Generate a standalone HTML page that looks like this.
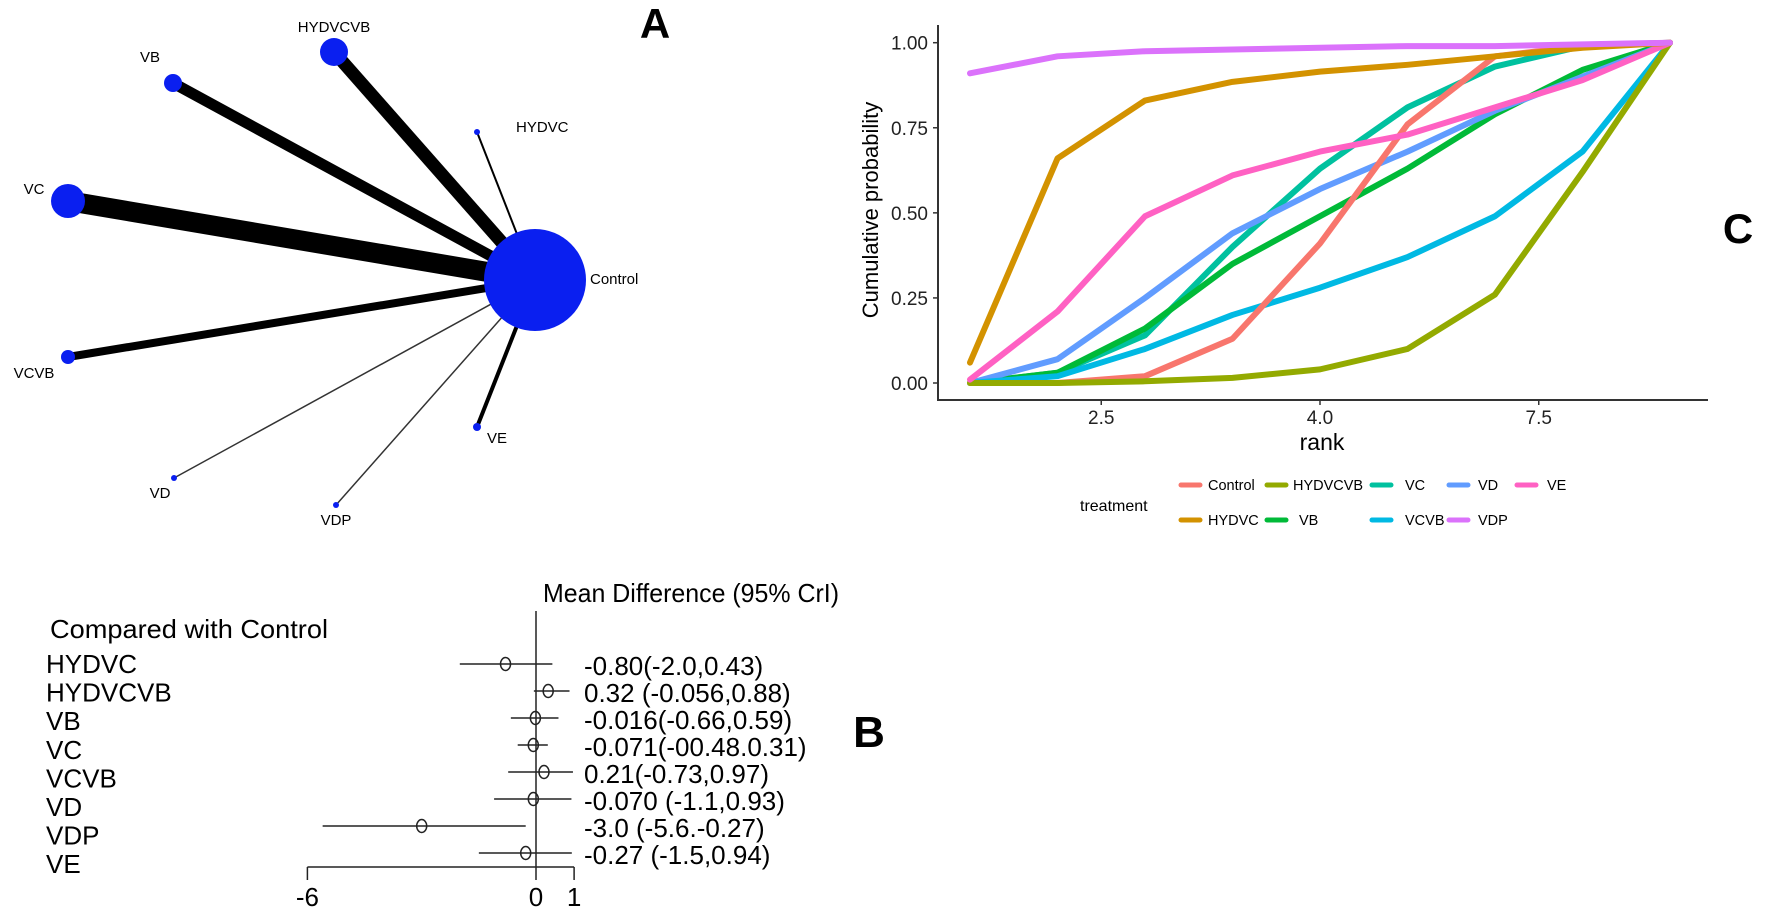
<!DOCTYPE html>
<html><head><meta charset="utf-8"><style>
body{margin:0;background:#fff;}
svg{display:block;font-family:"Liberation Sans",sans-serif;}
</style></head><body>
<svg id="root" width="1772" height="913" viewBox="0 0 1772 913">
<rect width="1772" height="913" fill="#fff"/>
<g id="net"></g>
<g id="cum"></g>
<g id="forest"></g>
<text x="655" y="38" font-size="42" font-weight="bold" text-anchor="middle">A</text>
<text x="869" y="747" font-size="44" font-weight="bold" text-anchor="middle">B</text>
<text x="1738" y="243" font-size="42" font-weight="bold" text-anchor="middle">C</text>
</svg>
<script>
const NS="http://www.w3.org/2000/svg";
function mk(p,t,a){const e=document.createElementNS(NS,t);for(const k in a)e.setAttribute(k,a[k]);p.appendChild(e);return e;}

// ---------- Network (A) ----------
const netNodes=["HYDVCVB","VB","HYDVC","VC","VCVB","VD","VDP","VE"];
const netNodeSizes=[14,9,3,17,7,3,3,4];
const netEdgeWidths=[13,11,2,20,8,1.5,1.5,4];
const netPos={HYDVCVB:[334,52],VB:[173,83],HYDVC:[477,132],VC:[68,201],VCVB:[68,357],VD:[174,478],VDP:[336,505],VE:[477,427]};
const netLabelPos={HYDVCVB:[334,32,"middle"],VB:[150,62,"middle"],HYDVC:[516,132,"start"],VC:[34,194,"middle"],VCVB:[34,378,"middle"],VD:[160,498,"middle"],VDP:[336,525,"middle"],VE:[497,443,"middle"]};
const net=document.getElementById('net');
const cx=535,cy=280;
netNodes.forEach((n,i)=>{
  const l=mk(net,'line',{x1:netPos[n][0],y1:netPos[n][1],x2:cx,y2:cy,stroke:(i===5||i===6)?'#333':'#000','stroke-width':netEdgeWidths[i]});
  
  
});
const cn=mk(net,'circle',{cx:cx,cy:cy,r:51,fill:'#0a1ff0'});


const ct=mk(net,'text',{x:590,y:284,'font-size':15});ct.textContent='Control';


netNodes.forEach((n,i)=>{
  const c=mk(net,'circle',{cx:netPos[n][0],cy:netPos[n][1],r:netNodeSizes[i],fill:'#0a1ff0'});
  
  
  const lp=netLabelPos[n];
  const t=mk(net,'text',{x:lp[0],y:lp[1],'font-size':15,'text-anchor':lp[2]});t.textContent=n;
  
  
});

// ---------- Cumulative rank chart (C) ----------
const treatments=["Control","HYDVC","HYDVCVB","VB","VC","VCVB","VD","VDP","VE"];
const colors=["#F8766D","#D39200","#93AA00","#00BA38","#00C19F","#00B9E3","#619CFF","#DB72FB","#FF61C3"];
const ranks=[1,2,3,4,5,6,7,8,9];
const sControl=[0,0,0.02,0.13,0.41,0.76,0.96,0.99,1];
const sHYDVC=[0.06,0.66,0.83,0.885,0.915,0.935,0.96,0.985,1];
const sHYDVCVB=[0,0,0.005,0.015,0.04,0.10,0.26,0.62,1];
const sVB=[0,0.03,0.16,0.35,0.49,0.63,0.79,0.92,1];
const sVC=[0,0.03,0.14,0.40,0.63,0.81,0.93,0.99,1];
const sVCVB=[0,0.02,0.10,0.20,0.28,0.37,0.49,0.68,1];
const sVD=[0,0.07,0.25,0.44,0.57,0.68,0.80,0.90,1];
const sVDP=[0.91,0.96,0.975,0.98,0.985,0.99,0.99,0.995,1];
const sVE=[0.01,0.21,0.49,0.61,0.68,0.73,0.81,0.89,1];
const series=[sControl,sHYDVC,sHYDVCVB,sVB,sVC,sVCVB,sVD,sVDP,sVE];
const drawOrder=[4,3,6,5,0,2,8,1,7];
const yTicks=[0,0.25,0.5,0.75,1];
const yTickLabels=["0.00","0.25","0.50","0.75","1.00"];
const xTicks=[2.5,5,7.5];
const xTickLabels=["2.5","4.0","7.5"];
const X=r=>970+(r-1)*87.5;
const Y=v=>383-v*340.3;
const cum=document.getElementById('cum');
mk(cum,'line',{x1:938,y1:25,x2:938,y2:400,stroke:'#333','stroke-width':2});
mk(cum,'line',{x1:937,y1:400,x2:1708,y2:400,stroke:'#333','stroke-width':2});
yTicks.forEach((v,i)=>{
  mk(cum,'line',{x1:933,y1:Y(v),x2:938,y2:Y(v),stroke:'#333','stroke-width':1.5});
  const t=mk(cum,'text',{x:928,y:Y(v)+7,'font-size':19,'text-anchor':'end',fill:'#222'});t.textContent=yTickLabels[i];
  
  
});
xTicks.forEach((v,i)=>{
  mk(cum,'line',{x1:X(v),y1:400,x2:X(v),y2:405,stroke:'#333','stroke-width':1.5});
  const t=mk(cum,'text',{x:X(v),y:424,'font-size':19,'text-anchor':'middle',fill:'#222'});t.textContent=xTickLabels[i];
  
  
});
const yt=mk(cum,'text',{x:0,y:0,'font-size':22,'text-anchor':'middle',transform:'translate(878,210) rotate(-90)'});yt.textContent='Cumulative probability';


const xt=mk(cum,'text',{x:1322,y:450,'font-size':23,'text-anchor':'middle'});xt.textContent='rank';


drawOrder.forEach(i=>{
  const pts=ranks.map((r,j)=>X(r)+','+Y(series[i][j])).join(' ');
  const pl=mk(cum,'polyline',{points:pts,fill:'none',stroke:colors[i],'stroke-width':6,'stroke-linejoin':'round','stroke-linecap':'round'});
  
  
});
// legend
const lt=mk(cum,'text',{x:1080,y:511,'font-size':16});lt.textContent='treatment';


const legKeyX=[1181,1181,1267,1267,1372,1372,1449,1449,1517];
const legLabX=[1208,1208,1293,1299,1405,1405,1478,1478,1547];
const legRow=[0,1,0,1,0,1,0,1,0];
treatments.forEach((n,i)=>{
  const y=legRow[i]?520:485;
  const g=mk(cum,'g',{});
  
  
  mk(g,'line',{x1:legKeyX[i],y1:y,x2:legKeyX[i]+19,y2:y,stroke:colors[i],'stroke-width':5,'stroke-linecap':'round'});
  const t=mk(g,'text',{x:legLabX[i],y:y+5,'font-size':14.5});t.textContent=n;
});

// ---------- Forest plot (B) ----------
const fNames=["HYDVC","HYDVCVB","VB","VC","VCVB","VD","VDP","VE"];
const fMean=[-0.80,0.32,-0.016,-0.071,0.21,-0.070,-3.0,-0.27];
const fLow=[-2.0,-0.056,-0.66,-0.48,-0.73,-1.1,-5.6,-1.5];
const fHigh=[0.43,0.88,0.59,0.31,0.97,0.93,-0.27,0.94];
const fText=["-0.80(-2.0,0.43)","0.32 (-0.056,0.88)","-0.016(-0.66,0.59)","-0.071(-00.48.0.31)","0.21(-0.73,0.97)","-0.070 (-1.1,0.93)","-3.0 (-5.6.-0.27)","-0.27 (-1.5,0.94)"];
const fTicks=[-6,0,1];
const FX=v=>536+v*38.1;
const forest=document.getElementById('forest');
const h=mk(forest,'text',{x:543,y:602,'font-size':26,textLength:296,lengthAdjust:'spacingAndGlyphs'});h.textContent='Mean Difference (95% CrI)';


const h2=mk(forest,'text',{x:50,y:638,'font-size':26,textLength:278,lengthAdjust:'spacingAndGlyphs'});h2.textContent='Compared with Control';


mk(forest,'line',{x1:FX(0),y1:611,x2:FX(0),y2:867,stroke:'#222','stroke-width':1.5});
mk(forest,'line',{x1:FX(-6),y1:867,x2:FX(1),y2:867,stroke:'#222','stroke-width':1.5});
fTicks.forEach(v=>{
  mk(forest,'line',{x1:FX(v),y1:867,x2:FX(v),y2:880,stroke:'#222','stroke-width':1.5});
  const t=mk(forest,'text',{x:FX(v),y:906,'font-size':26,'text-anchor':'middle'});t.textContent=String(v);
  
  
});
fNames.forEach((n,i)=>{
  const lab=mk(forest,'text',{x:46,y:673+i*28.6,'font-size':26});lab.textContent=n;
  
  
  const y=664+i*27;
  const l=mk(forest,'line',{x1:FX(fLow[i]),y1:y,x2:FX(fHigh[i]),y2:y,stroke:'#222','stroke-width':1.5});
  
  
  const c=mk(forest,'ellipse',{cx:FX(fMean[i]),cy:y,rx:5,ry:6.5,fill:'none',stroke:'#222','stroke-width':1.5});
  
  
  const t=mk(forest,'text',{x:584,y:y+11,'font-size':26});t.textContent=fText[i];
  
  
});
</script>
</body></html>
